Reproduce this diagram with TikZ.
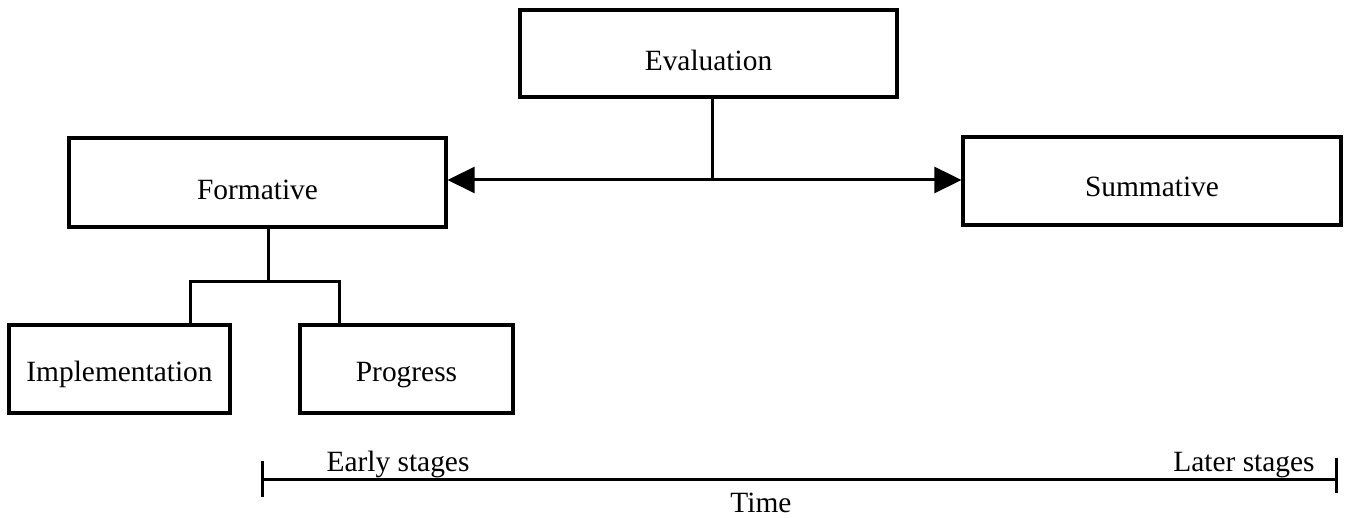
\documentclass[tikz,border=0pt]{standalone}
\usepackage{fontspec}
\setmainfont{Liberation Serif}
\usetikzlibrary{arrows.meta}
\begin{document}
\begin{tikzpicture}[x=0.5pt,y=-0.5pt,
  every node/.style={font=\fontsize{14.7pt}{17pt}\selectfont, inner sep=0pt},
  box/.style={draw, line width=1.6pt, rectangle, text depth=0pt},
  bigbox/.style={box, text height=17.5pt},
  smallbox/.style={box, text height=13pt},
  conn/.style={line width=1.5pt},
  arr/.style={conn, -{Triangle[length=13.5pt,width=13pt]}},
  lbl/.style={anchor=base}]
\useasboundingbox (0,0) rectangle (1346,518);
\node[bigbox, minimum width=188.5pt, minimum height=43.5pt] (eval) at (708.5,53.5) {Evaluation};
\node[bigbox, minimum width=188.5pt, minimum height=44.5pt] (form) at (257.5,182.5) {Formative};
\node[box, text height=16pt, minimum width=189pt, minimum height=44pt] (summ) at (1152,181) {Summative};
\node[smallbox, minimum width=110.5pt, minimum height=44pt] (impl) at (119.5,369) {Implementation};
\node[smallbox, minimum width=106.5pt, minimum height=44pt] (prog) at (406.5,369) {Progress};
\coordinate (junc) at (712,180);
\coordinate (br) at (268,282);
\draw[conn] (eval.south -| junc) -- (junc);
\draw[arr] (junc) -- (form.east |- junc);
\draw[arr] (junc) -- (summ.west |- junc);
\draw[conn] (form.south -| br) -- (br);
\draw[conn] (impl.north -| 190,0) |- (br) -| (prog.north -| 339,0);
\coordinate (tl) at (262,480);
\coordinate (tr) at (1336,480);
\draw[conn] (tl) -- (tr);
\draw[conn] ([yshift=9.5pt]tl) -- ([yshift=-8.5pt]tl);
\draw[conn] ([yshift=11pt]tr) -- ([yshift=-6.5pt]tr);
\node[lbl] (early) at (398,472) {Early stages};
\node[lbl] (later) at (1244,472) {Later stages};
\node[lbl] (time) at (761,513) {Time};
\end{tikzpicture}
\end{document}
